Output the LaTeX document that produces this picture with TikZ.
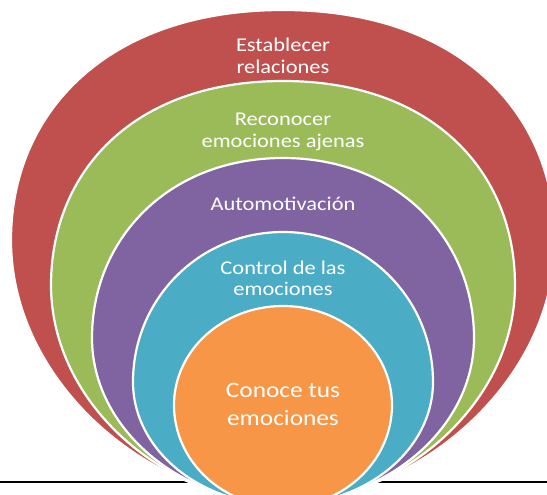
\documentclass[tikz,border=0pt]{standalone}
\usepackage{fontspec}
\setmainfont{Carlito}[FakeStretch=1.15]
\definecolor{cred}{HTML}{C0504D}
\definecolor{cgreen}{HTML}{9BBB59}
\definecolor{cpurple}{HTML}{8064A2}
\definecolor{ccyan}{HTML}{4BACC6}
\definecolor{corange}{HTML}{F79646}
\newcommand{\ctrx}{283}
% #1 colour, #2 top, #3 widest y, #4 half width, #5 bottom, #6 kux, #7 kuy, #8 klx, #9 kly
\newcommand{\eggshape}[9]{%
  \filldraw[ringline, fill=#1]
   ({\ctrx+#4}, #3)
   .. controls ({\ctrx+#4}, {#3-#7*(#3-#2)}) and ({\ctrx+#6*#4}, #2) .. (\ctrx, #2)
   .. controls ({\ctrx-#6*#4}, #2) and ({\ctrx-#4}, {#3-#7*(#3-#2)}) .. ({\ctrx-#4}, #3)
   .. controls ({\ctrx-#4}, {#3+#9*(#5-#3)}) and ({\ctrx-#8*#4}, #5) .. (\ctrx, #5)
   .. controls ({\ctrx+#8*#4}, #5) and ({\ctrx+#4}, {#3+#9*(#5-#3)}) .. cycle;
}
\tikzset{
  ringline/.style={draw=white, line width=2.2pt},
  lbl/.style={text=white, anchor=base, inner sep=0pt, font=\fontsize{19.5}{21.7}\selectfont},
  biglbl/.style={lbl, font=\fontsize{22}{28}\selectfont},
  baseline rule/.style={draw=black, line width=2.6pt}
}
\begin{document}
\begin{tikzpicture}[x=1pt,y=-1pt]
\useasboundingbox (0,0) rectangle (547,495);
\clip (0,0) rectangle (547,495);
\coordinate (lineL) at (0,482);
\coordinate (lineR) at (547,482);
\draw[baseline rule] (lineL) -- (lineR);
\eggshape{cred}{10}{240}{272}{501}{0.65}{0.55}{0.48}{0.552}
\eggshape{cgreen}{81}{285}{232}{502}{0.65}{0.55}{0.5}{0.552}
\eggshape{cpurple}{158}{338}{191}{503}{0.6}{0.55}{0.53}{0.552}
\eggshape{ccyan}{232}{382}{150}{505}{0.56}{0.552}{0.552}{0.552}
\eggshape{corange}{306}{405}{109}{507}{0.552}{0.552}{0.552}{0.552}
\node[lbl] (r1a) at (\ctrx,52) {Establecer};
\node[lbl] (r1b) at (\ctrx,73.5) {relaciones};
\node[lbl] (r2a) at (\ctrx,125) {Reconocer};
\node[lbl] (r2b) at (\ctrx,147) {emociones ajenas};
\node[lbl] (r3a) at (\ctrx,211) {Automotivación};
\node[lbl] (r4a) at (\ctrx,274) {Control de las};
\node[lbl] (r4b) at (\ctrx,295) {emociones};
\node[biglbl] (r5a) at (\ctrx,397) {Conoce tus};
\node[biglbl] (r5b) at (\ctrx,425) {emociones};
\end{tikzpicture}
\end{document}
